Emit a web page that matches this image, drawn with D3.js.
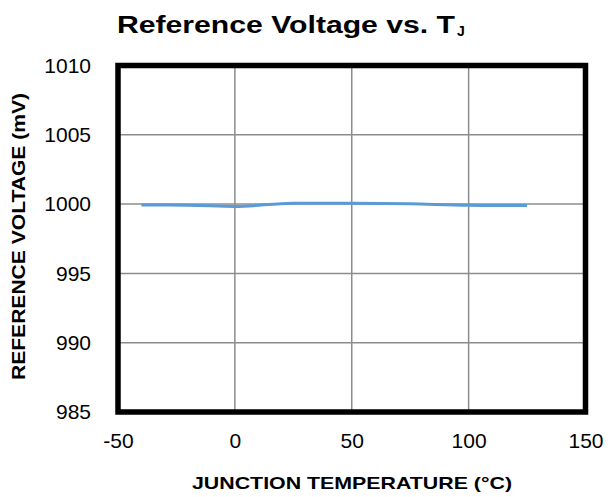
<!DOCTYPE html>
<html><head><meta charset="utf-8">
<script src="https://cdn.jsdelivr.net/npm/d3@7/dist/d3.min.js"></script>
<style>body{margin:0;background:#fff;} text{font-family:"Liberation Sans",Arial,sans-serif;}</style>
</head><body>
<svg id="c" width="610" height="497"></svg>
<script>
const temps = [-40, -20, 0, 25, 50, 75, 100, 125];
const vref = [999.93, 999.92, 999.83, 1000.07, 1000.06, 1000.02, 999.91, 999.9];
const xTicks = [-50, 0, 50, 100, 150];
const yTicks = [985, 990, 995, 1000, 1005, 1010];

const svg = d3.select("#c");
const L = 118, R = 585.5, T = 65.5, B = 412;
const x = d3.scaleLinear().domain([-50, 150]).range([L, R]);
const y = d3.scaleLinear().domain([985, 1010]).range([B, T]);
const fmt = d => String(d);

// grid
svg.append("g").selectAll("line").data(xTicks.slice(1, -1)).join("line")
  .attr("x1", d => x(d)).attr("x2", d => x(d)).attr("y1", T).attr("y2", B)
  .attr("stroke", "#8c8c8c").attr("stroke-width", 1.5);
svg.append("g").selectAll("line").data(yTicks.slice(1, -1)).join("line")
  .attr("y1", d => y(d)).attr("y2", d => y(d)).attr("x1", L).attr("x2", R)
  .attr("stroke", "#8c8c8c").attr("stroke-width", 1.5);

// axes (labels)
const xa = svg.append("g").attr("transform", `translate(0,${B})`)
  .call(d3.axisBottom(x).tickValues(xTicks).tickFormat(fmt).tickSize(0).tickPadding(21));
xa.select(".domain").remove();
xa.selectAll("text").attr("font-size", 21).attr("fill", "#000").attr("font-family", "Liberation Sans, Arial, sans-serif");
const ya = svg.append("g").attr("transform", `translate(${L},0)`)
  .call(d3.axisLeft(y).tickValues(yTicks).tickFormat(fmt).tickSize(0).tickPadding(27));
ya.select(".domain").remove();
ya.selectAll("text").attr("font-size", 21).attr("fill", "#000").attr("font-family", "Liberation Sans, Arial, sans-serif");

// line
const data = temps.map((t, i) => [t, vref[i]]);
svg.append("path").datum(data)
  .attr("d", d3.line().x(d => x(d[0])).y(d => y(d[1])).curve(d3.curveMonotoneX))
  .attr("fill", "none").attr("stroke", "#5b9bd5").attr("stroke-width", 3);

// frame
svg.append("rect").attr("x", L).attr("y", T).attr("width", R - L).attr("height", B - T)
  .attr("fill", "none").attr("stroke", "#000").attr("stroke-width", 5.5);

// title
const title = svg.append("text").attr("x", 117).attr("y", 33)
  .attr("font-size", 23).attr("font-weight", "bold").attr("fill", "#000");
title.append("tspan").attr("textLength", 338).attr("lengthAdjust", "spacingAndGlyphs").text("Reference Voltage vs. T");
title.append("tspan").attr("font-size", 14).attr("dx", 2).attr("dy", 3).text("J");

svg.append("text").attr("x", 192).attr("y", 489)
  .attr("font-size", 17).attr("font-weight", "bold")
  .attr("textLength", 320).attr("lengthAdjust", "spacingAndGlyphs").text("JUNCTION TEMPERATURE (°C)");
svg.append("text").attr("transform", "translate(25,380) rotate(-90)")
  .attr("font-size", 18).attr("font-weight", "bold")
  .attr("textLength", 287).attr("lengthAdjust", "spacingAndGlyphs").text("REFERENCE VOLTAGE (mV)");
</script>
</body></html>
